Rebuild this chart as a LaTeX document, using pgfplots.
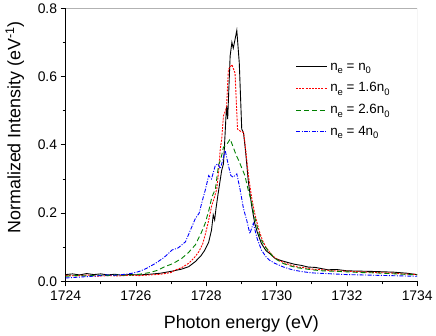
\documentclass[border=0pt]{standalone}
\usepackage{fontspec}
\setmainfont{Liberation Sans}
\usepackage{pgfplots}
\pgfplotsset{compat=1.18}
\usetikzlibrary{calc}
\definecolor{cblack}{rgb}{0,0,0}
\definecolor{cred}{rgb}{1,0,0}
\definecolor{cgreen}{rgb}{0,0.5,0}
\definecolor{cblue}{rgb}{0,0,1}
\newcommand{\lsub}[1]{\raisebox{-3.5pt}{\fontsize{9.5}{10}\selectfont #1}}
\newcommand{\lfont}{\fontsize{13.5}{15}\selectfont}
\newcommand{\lline}[2]{{\color{#1}\tikz[baseline=-3.6pt]\draw[draw=#1, line width=0.9pt, #2] (0pt,0pt) -- (31pt,0pt);}\hspace{3pt}}

\begin{document}
\begin{tikzpicture}
\begin{axis}[
  name=ax,
  scale only axis, width=354pt, height=275pt,
  xmin=1724, xmax=1734, ymin=0, ymax=0.8,
  axis x line*=bottom, axis y line*=left,
  axis line style={line width=0.8pt},
  xtick={1724,1726,...,1734}, minor xtick={1725,1727,...,1733},
  ytick={0,0.2,...,0.8}, minor ytick={0.1,0.3,0.5,0.7},
  tick align=outside, major tick length=5pt, minor tick length=3pt,
  tick style={black, line width=0.7pt},
  /pgf/number format/assume math mode=true,
  x tick label style={/pgf/number format/1000 sep={}, yshift=-1pt},
  y tick label style={/pgf/number format/.cd, fixed, fixed zerofill, precision=1},
  tick label style={font=\fontsize{14}{16}\selectfont},
  label style={font=\fontsize{18}{20}\selectfont},
  xlabel={Photon energy (eV)},
  ylabel={Normalized Intensity (eV\textsuperscript{-1})},
  xlabel style={yshift=-8pt},
  ylabel style={at={(ticklabel cs:0.564)}, yshift=7pt},
  legend style={draw=none, fill=none, at={(0.648,0.808)}, anchor=north west,
    row sep=7pt, inner sep=0pt},
  legend cell align=left,
  legend image code/.code={},
  clip=true,
]
\addplot[cblack, line width=0.9pt] coordinates {
(1724.0,0.020) (1724.2,0.022) (1724.4,0.019) (1724.6,0.023) (1724.8,0.020)
(1725.0,0.022) (1725.2,0.019) (1725.4,0.021) (1725.6,0.018) (1725.8,0.020)
(1726.1,0.019) (1726.4,0.021) (1726.7,0.024) (1727.03,0.030) (1727.3,0.036)
(1727.5,0.043) (1727.69,0.058) (1727.85,0.075) (1727.95,0.090) (1728.07,0.115)
(1728.15,0.150) (1728.20,0.195) (1728.24,0.180) (1728.28,0.215) (1728.35,0.265)
(1728.44,0.325) (1728.49,0.344) (1728.51,0.378) (1728.56,0.480) (1728.58,0.514)
(1728.61,0.475) (1728.68,0.660) (1728.73,0.700) (1728.77,0.683) (1728.87,0.735)
(1728.94,0.640) (1729.01,0.446) (1729.06,0.436) (1729.12,0.380) (1729.20,0.290)
(1729.29,0.223) (1729.38,0.170) (1729.45,0.145) (1729.57,0.111) (1729.7,0.090)
(1729.8,0.082) (1729.95,0.068) (1730.1,0.062) (1730.3,0.056) (1730.52,0.050)
(1730.7,0.047) (1730.9,0.042) (1731.1,0.041) (1731.46,0.034) (1731.7,0.035)
(1732.0,0.031) (1732.4,0.030) (1732.8,0.029) (1733.34,0.027) (1733.7,0.024)
(1734.0,0.020)};
\addlegendentry{\lfont\lline{cblack}{}n\lsub{e} = n\lsub{0}}
\addplot[cred, line width=0.9pt, dash pattern=on 2pt off 1.2pt] coordinates {
(1724.0,0.018) (1724.3,0.016) (1724.6,0.019) (1724.9,0.015) (1725.2,0.017)
(1725.5,0.016) (1725.8,0.018) (1726.1,0.017) (1726.4,0.019) (1726.7,0.021)
(1727.0,0.026) (1727.13,0.034) (1727.3,0.040) (1727.5,0.053) (1727.65,0.068)
(1727.79,0.087) (1727.9,0.110) (1727.97,0.136) (1728.05,0.170) (1728.16,0.223)
(1728.23,0.245) (1728.30,0.271) (1728.35,0.320) (1728.40,0.388) (1728.44,0.417)
(1728.49,0.485) (1728.55,0.500) (1728.58,0.514) (1728.63,0.620) (1728.73,0.635)
(1728.82,0.610) (1728.89,0.446) (1728.97,0.440) (1729.06,0.436) (1729.10,0.407)
(1729.20,0.310) (1729.30,0.240) (1729.39,0.194) (1729.5,0.150) (1729.6,0.120)
(1729.7,0.100) (1729.8,0.086) (1729.9,0.074) (1730.0,0.066) (1730.2,0.055)
(1730.4,0.048) (1730.6,0.042) (1730.8,0.040) (1731.0,0.036) (1731.3,0.034)
(1731.6,0.031) (1732.0,0.030) (1732.4,0.028) (1732.8,0.026) (1733.2,0.025)
(1733.6,0.022) (1734.0,0.020)};
\addlegendentry{\lfont\lline{cred}{dash pattern=on 2pt off 1.2pt}n\lsub{e} = 1.6n\lsub{0}}
\addplot[cgreen, line width=0.9pt, dash pattern=on 5pt off 3pt] coordinates {
(1724.0,0.015) (1724.3,0.017) (1724.6,0.016) (1724.9,0.018) (1725.2,0.017)
(1725.5,0.019) (1725.8,0.018) (1726.1,0.021) (1726.4,0.026) (1726.6,0.032)
(1726.84,0.044) (1727.0,0.050) (1727.15,0.058) (1727.31,0.068) (1727.5,0.085)
(1727.69,0.107) (1727.85,0.140) (1727.97,0.170) (1728.08,0.210) (1728.16,0.247)
(1728.26,0.270) (1728.35,0.340) (1728.42,0.360) (1728.49,0.393) (1728.58,0.400)
(1728.68,0.417) (1728.78,0.390) (1728.85,0.370) (1728.92,0.355) (1729.00,0.335)
(1729.10,0.310) (1729.20,0.265) (1729.29,0.233) (1729.34,0.204) (1729.45,0.160)
(1729.55,0.125) (1729.65,0.105) (1729.8,0.085) (1729.9,0.073) (1730.0,0.064)
(1730.2,0.052) (1730.4,0.045) (1730.6,0.040) (1730.8,0.037) (1731.0,0.034)
(1731.3,0.031) (1731.6,0.030) (1732.0,0.028) (1732.4,0.026) (1732.8,0.025)
(1733.2,0.023) (1733.6,0.021) (1734.0,0.019)};
\addlegendentry{\lfont\lline{cgreen}{dash pattern=on 5pt off 3pt}n\lsub{e} = 2.6n\lsub{0}}
\addplot[cblue, line width=0.9pt, dash pattern=on 4pt off 1.5pt on 1pt off 1.5pt] coordinates {
(1724.0,0.010) (1724.3,0.012) (1724.6,0.014) (1724.9,0.016) (1725.15,0.019)
(1725.4,0.018) (1725.7,0.021) (1725.9,0.024) (1726.09,0.029) (1726.3,0.038)
(1726.56,0.053) (1726.8,0.070) (1727.03,0.092) (1727.2,0.098) (1727.41,0.116)
(1727.55,0.150) (1727.69,0.184) (1727.8,0.200) (1727.88,0.233) (1727.98,0.270)
(1728.07,0.310) (1728.15,0.300) (1728.26,0.340) (1728.33,0.344) (1728.40,0.330)
(1728.47,0.355) (1728.54,0.383) (1728.63,0.340) (1728.70,0.310) (1728.77,0.305)
(1728.87,0.315) (1728.96,0.271) (1729.06,0.213) (1729.15,0.180) (1729.24,0.140)
(1729.34,0.170) (1729.45,0.125) (1729.57,0.092) (1729.7,0.072) (1729.8,0.062)
(1729.95,0.053) (1730.2,0.042) (1730.45,0.034) (1730.70,0.029) (1731.0,0.025)
(1731.4,0.023) (1731.8,0.021) (1732.0,0.020) (1732.4,0.019) (1732.8,0.018)
(1733.2,0.017) (1733.6,0.016) (1734.0,0.015)};
\addlegendentry{\lfont\lline{cblue}{dash pattern=on 4pt off 1.5pt on 1pt off 1.5pt}n\lsub{e} = 4n\lsub{0}}
\draw[black!30, line width=0.7pt] (rel axis cs:0,1) -- (rel axis cs:1,1) -- (rel axis cs:1,0);
\end{axis}
\path ($(ax.south west)+(-66pt,-52pt)$) ($(ax.north east)+(16pt,5pt)$);
\end{tikzpicture}
\end{document}
